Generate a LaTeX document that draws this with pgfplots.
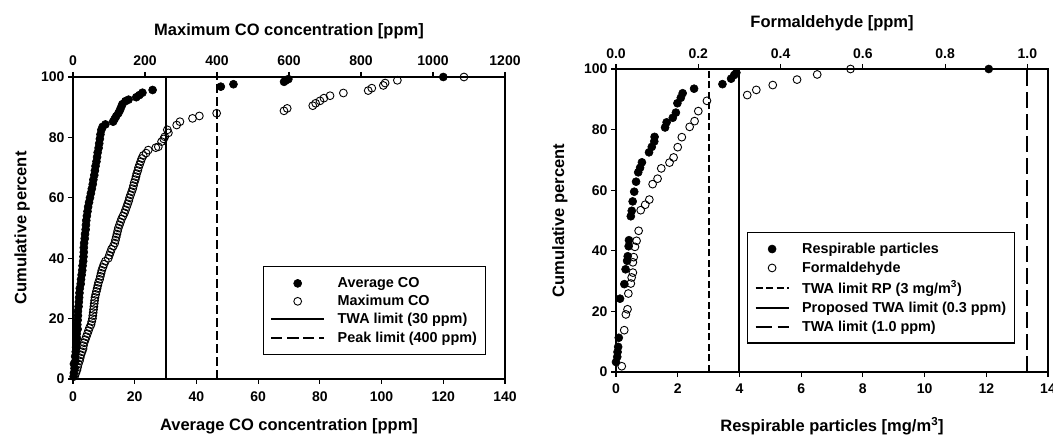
\documentclass[border=0pt]{standalone}
\usepackage{pgfplots}
\pgfplotsset{compat=1.18}
\usepackage{fontspec}
\setmainfont{Liberation Sans}
\newcommand{\fs}[1]{\fontsize{#1bp}{#1bp}\selectfont\bfseries}
\begin{document}
\begin{tikzpicture}
\useasboundingbox (0,0) rectangle (1053bp,437bp);
\pgfplotsset{
  base/.style={
    scale only axis, width=432bp, anchor=south west,
    ymin=0, ymax=100, clip=false,
    /pgf/number format/assume math mode=true,
    /pgf/number format/1000 sep={},
    tick label style={font=\fs{14}},
    axis line style={line width=1.4bp},
    major tick length=5bp,
    tick style={line width=1.2bp, black},
    tick align=outside,
  },
  filled/.style={only marks, mark=*, mark size=4bp, mark options={fill=black, draw=black, line width=0.6bp}},
  open/.style={only marks, mark=o, mark size=3.9bp, mark options={draw=black, line width=0.9bp}},
  lg/.style={draw=black, line width=1.1bp, font=\fs{14.4}, inner xsep=7bp, inner ysep=9.5bp, row sep=3.2bp,
    nodes={inner sep=1.5bp}, /tikz/every odd column/.append style={column sep=11bp}},
}
% ---------------- LEFT CHART ----------------
\begin{axis}[base, at={(73bp,58bp)}, height=302bp,
  xmin=0, xmax=140, xtick={0,20,...,140}, ytick={0,20,...,100},
  xtick pos=left, ytick pos=left,
  xticklabel style={yshift=-4bp},
  xlabel={Average CO concentration [ppm]},
  ylabel={Cumulative percent},
  every axis x label/.style={at={(axis description cs:0.5,-0.172)}, anchor=base, font=\fs{16.5}},
  every axis y label/.style={at={(axis description cs:-0.118,0.5)}, rotate=90, anchor=center, font=\fs{16.5}},
]
\addplot[filled] coordinates {
(0.2,0.8) (0.3,2) (0.5,3.5) (0.3,5) (0.8,6) (0.7,7.5) (0.9,9) (1.0,10.5) (1.2,12) (1.3,13.5)
(1.2,15) (1.5,16.5) (1.4,18) (1.5,19.5) (1.6,21) (1.6,22.5) (1.8,24) (1.9,25.5) (2.0,27) (2.1,28.5)
(2.2,30) (2.5,31.5) (2.6,33) (2.8,34.5) (3.0,36) (3.1,37.5) (3.3,39) (3.4,40.5) (3.5,42) (3.5,43.5)
(3.6,45) (3.8,46.5) (3.9,48) (4.1,49.5) (4.2,51) (4.3,52.5) (4.5,54) (4.7,55.5) (4.9,57) (5.2,58.5)
(5.5,60) (5.8,61.5) (6.1,63) (6.4,64.5) (6.6,66) (6.9,67.5) (7.1,69) (7.3,70.5) (7.6,72) (7.8,73.5)
(8.0,75) (8.3,76.5) (8.5,78) (8.7,79.5) (8.9,81) (9.2,82.5) (9.6,83.5) (10.5,84.3) (13.0,85.2) (13.5,86.1)
(14.0,87) (14.7,88) (15.2,89) (15.6,90) (16.0,91) (17.0,92) (18.0,92.5) (20.5,93.3) (21.5,94) (22.5,94.8)
(25.8,95.7) (47.9,96.8) (52.0,97.6) (68.4,98.4) (69.0,98.9) (69.8,99.3) (120.0,100)
};
\addplot[black, line width=2bp] coordinates {(30,0) (30,100)};
\end{axis}
\begin{axis}[base, at={(73bp,58bp)}, height=302bp,
  xmin=0, xmax=1200, xtick={0,200,...,1200},
  axis x line*=top, axis y line=none,
  xticklabel style={yshift=2.5bp},
  xlabel={Maximum CO concentration [ppm]},
  every axis x label/.style={at={(axis description cs:0.5,1.136)}, anchor=base, font=\fs{16.5}},
  legend style={lg, at={(0.956,0.374)}, anchor=north east},
  legend cell align=left,
  legend image code/.code={\draw[mark repeat=2,mark phase=2,#1] plot coordinates {(0bp,0bp) (26.5bp,0bp) (53bp,0bp)};},
]
\addlegendimage{filled}\addlegendentry{Average CO}
\addlegendimage{open}\addlegendentry{Maximum CO}
\addlegendimage{black, line width=2bp}\addlegendentry{TWA limit (30 ppm)}
\addlegendimage{black, line width=2bp, dash pattern=on 11bp off 5bp}\addlegendentry{Peak limit (400 ppm)}
\addplot[open, forget plot] coordinates {
(5,1) (8,2) (11,3) (13,4) (15,5) (18,6) (20,7) (22,8) (25,9) (28,10)
(29,11) (31,12) (34,13) (37,14) (40,15) (43,16) (46,17) (50,18) (52,19) (54,20)
(55,21) (56,22) (57,23) (58,24) (59,25) (60,26) (61,27) (63,28) (65,29) (67,30)
(69,31) (71,32) (74,33) (76,34) (78,35) (80,36) (83,37) (86,38) (90,39) (98,40)
(101,41) (104,42) (107,43) (112,44) (116,45) (118,46) (120,47) (122,48) (124,49) (126,50)
(129,51) (132,52) (135,53) (139,54) (143,55) (146,56) (149,57) (152,58) (155,59) (157,60)
(160,61) (163,62) (166,63) (168,64) (170,65) (173,66) (175,67) (177,68) (180,69) (182,70)
(185,71) (188,72) (191,73) (195,74) (203,74.8) (209,75.8) (230,76.6) (237,76.9) (246,78.6) (252,79.5)
(255,80.2) (265,81.5) (262,82.5) (288,84.1) (297,85.2) (332,86.3) (351,87.1) (399,88.0) (586,88.8) (595,89.6)
(666,90.5) (674,91.3) (686,92.1) (697,93.0) (714,93.8) (751,94.7) (820,95.5) (830,96.3) (862,97.2) (867,98.0)
(901,98.9) (1086,100)
};
\addplot[black, line width=2bp, dash pattern=on 9bp off 4bp, forget plot] coordinates {(400,0) (400,100)};
\end{axis}
% ---------------- RIGHT CHART ----------------
\begin{axis}[base, at={(616bp,65bp)}, height=303bp,
  xmin=0, xmax=14, xtick={0,2,...,14}, ytick={0,20,...,100},
  xtick pos=left, ytick pos=left,
  xticklabel style={yshift=-3bp},
  xlabel={Respirable particles [mg/m\textsuperscript{3}]},
  ylabel={Cumulative percent},
  every axis x label/.style={at={(axis description cs:0.5,-0.198)}, anchor=base, font=\fs{16.5}},
  every axis y label/.style={at={(axis description cs:-0.130,0.5)}, rotate=90, anchor=center, font=\fs{16.5}},
]
\addplot[filled] coordinates {
(0.0,3.3) (0.04,5.0) (0.05,6.6) (0.07,8.3) (0.09,11.3) (0.13,24.2) (0.27,29.0) (0.31,33.9) (0.36,36.7) (0.38,38.2)
(0.41,41.5) (0.42,43.5) (0.48,51.4) (0.51,53.2) (0.54,56.3) (0.59,59.5) (0.65,62.8) (0.72,65.9) (0.78,67.4) (0.84,69.2)
(1.07,72.5) (1.16,74.3) (1.24,76.1) (1.25,77.6) (1.59,80.7) (1.64,82.4) (1.84,83.9) (1.94,85.6) (1.99,88.7) (2.10,90.5)
(2.16,92.0) (2.53,93.5) (3.45,95.0) (3.73,96.8) (3.83,98.0) (3.90,98.8) (12.08,100)
};
\addplot[black, line width=2bp, dash pattern=on 7bp off 3.5bp] coordinates {(3,0) (3,100)};
\end{axis}
\begin{axis}[base, at={(616bp,65bp)}, height=303bp,
  xmin=0, xmax=1.05, xtick={0,0.2,0.4,0.6,0.8,1.0},
  xticklabel style={yshift=1.5bp, /pgf/number format/.cd, fixed, fixed zerofill, precision=1},
  axis x line*=top, axis y line=none,
  xlabel={Formaldehyde [ppm]},
  every axis x label/.style={at={(axis description cs:0.5,1.136)}, anchor=base, font=\fs{16.5}},
  legend style={lg, at={(0.924,0.462)}, anchor=north east, inner ysep=9bp, row sep=4bp},
  legend cell align=left,
  legend image code/.code={\draw[mark repeat=2,mark phase=2,#1] plot coordinates {(0bp,0bp) (16.5bp,0bp) (33bp,0bp)};},
]
\addlegendimage{filled}\addlegendentry{Respirable particles}
\addlegendimage{open}\addlegendentry{Formaldehyde}
\addlegendimage{black, line width=2bp, dash pattern=on 7bp off 3.5bp}\addlegendentry{TWA limit RP (3 mg/m\textsuperscript{3})}
\addlegendimage{black, line width=2bp}\addlegendentry{Proposed TWA limit (0.3 ppm)}
\addlegendimage{black, line width=2bp, dash pattern=on 16bp off 6bp}\addlegendentry{TWA limit (1.0 ppm)}
\addplot[open, forget plot] coordinates {
(0.014,1.9) (0.020,13.8) (0.024,19.0) (0.028,20.7) (0.030,25.9) (0.036,29.2) (0.038,31.2) (0.041,32.8) (0.041,36.2) (0.043,37.9)
(0.046,41.3) (0.050,43.3) (0.055,46.6) (0.060,53.4) (0.071,55.2) (0.081,56.9) (0.089,62.0) (0.101,63.8) (0.110,67.2) (0.130,69.1)
(0.140,70.8) (0.150,74.2) (0.160,77.5) (0.179,80.9) (0.191,82.8) (0.200,86.1) (0.221,89.5) (0.319,91.4) (0.341,93.1) (0.381,94.7)
(0.440,96.5) (0.489,98.2) (0.570,100)
};
\addplot[black, line width=2bp, forget plot] coordinates {(0.3,0) (0.3,100)};
\addplot[black, line width=2bp, dash pattern=on 16bp off 6bp, forget plot] coordinates {(1.0,0) (1.0,100)};
\end{axis}
\end{tikzpicture}
\end{document}
